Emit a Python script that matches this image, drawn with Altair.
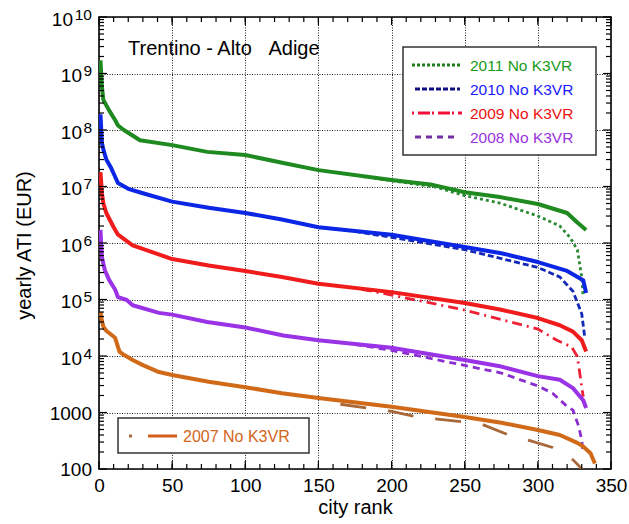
import altair as alt
import pandas as pd

FONT = "Liberation Sans"

# ---------------- data ----------------
series_names = ["2011", "2010", "2009", "2008", "2007"]

# main (dense) curves
rank_2011 = [1, 2, 3, 7, 11, 13, 17, 28, 50, 74, 100, 126, 150, 200, 228, 250, 274, 300, 320, 327, 333]
ati_2011 = [1.7e9, 5.8e8, 3.4e8, 2.2e8, 1.5e8, 1.2e8, 1.0e8, 6.6e7, 5.4e7, 4.1e7, 3.6e7, 2.6e7,
            1.95e7, 1.3e7, 1.07e7, 7.9e6, 6.5e6, 4.9e6, 3.4e6, 2.3e6, 1.7e6]

rank_2010 = [1, 2, 3, 5, 8, 10, 13, 20, 30, 50, 75, 100, 125, 150, 200, 250, 275, 300, 320, 331, 333]
ati_2010 = [1.9e8, 5.9e7, 4.5e7, 3.0e7, 2.2e7, 1.7e7, 1.15e7, 9.1e6, 7.6e6, 5.4e6, 4.2e6, 3.4e6,
            2.6e6, 1.9e6, 1.4e6, 8.5e5, 6.6e5, 4.6e5, 3.2e5, 2.2e5, 1.3e5]

rank_2009 = [1, 2, 3, 5, 10, 13, 23, 50, 75, 100, 125, 150, 200, 250, 275, 300, 315, 324, 330, 333]
ati_2009 = [1.8e7, 7.6e6, 5.0e6, 3.4e6, 1.9e6, 1.4e6, 9.1e5, 5.2e5, 4.0e5, 3.2e5, 2.5e5, 1.9e5,
            1.35e5, 8.7e4, 6.6e4, 4.7e4, 3.5e4, 2.7e4, 1.9e4, 1.2e4]

rank_2008 = [1, 2, 4, 7, 11, 13, 19, 23, 41, 50, 74, 100, 126, 150, 200, 250, 275, 300, 315, 324, 331, 333]
ati_2008 = [1.7e6, 5.6e5, 3.3e5, 2.2e5, 1.5e5, 1.1e5, 9.8e4, 7.9e4, 5.8e4, 5.4e4, 4.0e4, 3.2e4,
            2.3e4, 1.9e4, 1.4e4, 8.5e3, 6.5e3, 4.4e3, 3.8e3, 2.7e3, 1.65e3, 1.2e3]

rank_2007 = [1, 2, 3, 5, 11, 14, 17, 23, 30, 41, 50, 75, 100, 125, 150, 200, 250, 275, 300, 315, 327, 331, 336, 339]
ati_2007 = [6.0e4, 4.2e4, 3.3e4, 2.8e4, 2.1e4, 1.2e4, 1.05e4, 8.5e3, 6.9e3, 5.2e3, 4.6e3, 3.5e3,
            2.8e3, 2.2e3, 1.8e3, 1.26e3, 830, 660, 490, 400, 290, 250, 190, 125]

# secondary (dashed) curves, where they leave the main ones
rank_2011_b = [180, 230, 250, 274, 300, 315, 322, 327, 330, 331]
ati_2011_b = [1.5e7, 9.8e6, 6.9e6, 5.1e6, 3.0e6, 2.0e6, 1.25e6, 7.6e5, 2.5e5, 1.1e5]

rank_2010_b = [175, 200, 250, 300, 315, 324, 330, 332]
ati_2010_b = [1.6e6, 1.26e6, 7.6e5, 3.7e5, 2.5e5, 1.4e5, 5.6e4, 2.2e4]

rank_2009_b = [175, 200, 250, 300, 313, 323, 327, 329, 331]
ati_2009_b = [1.6e5, 1.2e5, 6.5e4, 3.0e4, 1.9e4, 1.45e4, 9.8e3, 4.3e3, 1.9e3]

rank_2008_b = [175, 200, 250, 275, 300, 310, 319, 324, 328, 330, 331]
ati_2008_b = [1.6e4, 1.26e4, 6.8e3, 5.0e3, 2.95e3, 2.2e3, 1.35e3, 1.1e3, 560, 320, 190]

rank_2007_b = [165, 200, 218, 261, 280, 294, 310, 324, 331]
ati_2007_b = [1.4e3, 1.05e3, 830, 630, 400, 320, 240, 145, 95]

legend_top = ["2011 No K3VR", "2010 No K3VR", "2009 No K3VR", "2008 No K3VR"]
legend_bottom = "2007 No K3VR"
title_text = "Trentino - Alto\u00a0\u00a0\u00a0Adige"

x_ticks_major = [0, 50, 100, 150, 200, 250, 300, 350]
y_ticks_major = [1e2, 1e3, 1e4, 1e5, 1e6, 1e7, 1e8, 1e9, 1e10]
y_sup_exps = [4, 5, 6, 7, 8, 9]

# ---------------- styles ----------------
upper_colors = ["#1f8a1f", "#0b26e4", "#f01c1c", "#9a32e6", "#d06a18"]
lower_colors = ["#2a8a36", "#1428b8", "#ee2035", "#8a2ed0", "#a8683a"]
lower_dash = [[3, 3], [6, 3], [2, 5, 10, 5], [7, 5], [26, 22]]
legend_text_colors = ["#1a9a1a", "#1a1aff", "#ee1111", "#9933dd"]
legend_line_colors = ["#1e7f1e", "#101080", "#f0103a", "#7030a0"]
orange_text = "#d2661a"

W, H = 512, 452

# ---------------- tables ----------------
up_sets = [(rank_2011, ati_2011), (rank_2010, ati_2010), (rank_2009, ati_2009),
           (rank_2008, ati_2008), (rank_2007, ati_2007)]
lo_sets = [(rank_2011_b, ati_2011_b), (rank_2010_b, ati_2010_b), (rank_2009_b, ati_2009_b),
           (rank_2008_b, ati_2008_b), (rank_2007_b, ati_2007_b)]

df_up = pd.DataFrame([{"series": s, "rank": r, "ati": a}
                      for s, (rs, As) in zip(series_names, up_sets) for r, a in zip(rs, As)])
df_lo = pd.DataFrame([{"series": s, "rank": r, "ati": a}
                      for s, (rs, As) in zip(series_names, lo_sets) for r, a in zip(rs, As)])

x_minor = [v for v in range(10, 350, 10)]
y_minor = [k * 10 ** e for e in range(2, 10) for k in range(2, 10)]

df_xmaj = pd.DataFrame({"rank": x_ticks_major})
df_xmin = pd.DataFrame({"rank": x_minor})
df_ymaj = pd.DataFrame({"ati": y_ticks_major})
df_ymin = pd.DataFrame({"ati": y_minor})
df_one = pd.DataFrame({"k": [0]})

df_sup = pd.DataFrame({"ati": [10.0 ** e for e in y_sup_exps],
                       "base": ["10"] * len(y_sup_exps),
                       "exp": [str(e) for e in y_sup_exps]})
df_sup10 = pd.DataFrame({"ati": [1e10], "base": ["10"], "exp": ["10"]})
df_plain = pd.DataFrame({"ati": [100, 1000], "lab": ["100", "1000"]})

xs = alt.Scale(domain=[0, 350], nice=False, zero=False)
ys = alt.Scale(type="log", domain=[100, 1e10], nice=False)

grid_kw = dict(grid=True, gridDash=[1, 1.5], gridColor="#222222", gridWidth=1,
               ticks=False, tickSize=0, domain=False)

xaxis = alt.Axis(values=x_ticks_major, format="d", labelFont=FONT, labelFontSize=19,
                 labelColor="black", labelPadding=7, labelFlush=False, labelOverlap=False,
                 title="city rank", titleFont=FONT, titleFontSize=20, titleFontWeight="normal",
                 titleColor="black", titleX=W / 2, titleY=44, titleBaseline="alphabetic",
                 titleAlign="center", **grid_kw)
yaxis = alt.Axis(values=y_ticks_major, labels=False,
                 title="yearly ATI (EUR)", titleFont=FONT, titleFontSize=20,
                 titleFontWeight="normal", titleColor="black", titleX=-69, titleY=H / 2 + 2,
                 titleAngle=270, titleBaseline="alphabetic", titleAlign="center", **grid_kw)


def X():
    return alt.X("rank:Q", scale=xs, axis=xaxis)


def Y():
    return alt.Y("ati:Q", scale=ys, axis=yaxis)


lower = alt.Chart(df_lo).mark_line(strokeWidth=2.8, clip=True).encode(
    x=X(), y=Y(),
    color=alt.Color("series:N", scale=alt.Scale(domain=series_names, range=lower_colors), legend=None),
    strokeDash=alt.StrokeDash("series:N", scale=alt.Scale(domain=series_names, range=lower_dash), legend=None),
)

upper = alt.Chart(df_up).mark_line(strokeWidth=4, clip=True, strokeJoin="round").encode(
    x=X(), y=Y(),
    color=alt.Color("series:N", scale=alt.Scale(domain=series_names, range=upper_colors), legend=None),
)

tick_layers = []
for df_t, ln in [(df_xmaj, 8), (df_xmin, 5)]:
    tick_layers.append(alt.Chart(df_t).mark_rule(color="black", strokeWidth=1.2).encode(
        x=X(), y=alt.value(H), y2=alt.value(H - ln)))
    tick_layers.append(alt.Chart(df_t).mark_rule(color="black", strokeWidth=1.2).encode(
        x=X(), y=alt.value(0), y2=alt.value(ln)))
for df_t, ln in [(df_ymaj, 8), (df_ymin, 5)]:
    tick_layers.append(alt.Chart(df_t).mark_rule(color="black", strokeWidth=1.2).encode(
        y=Y(), x=alt.value(0), x2=alt.value(ln)))
    tick_layers.append(alt.Chart(df_t).mark_rule(color="black", strokeWidth=1.2).encode(
        y=Y(), x=alt.value(W), x2=alt.value(W - ln)))

# y tick labels with superscripts
ylabel_layers = [
    alt.Chart(df_sup).mark_text(align="right", baseline="alphabetic", dy=8.5, font=FONT,
                                fontSize=19, color="black").encode(
        y=Y(), x=alt.value(-17), text="base:N"),
    alt.Chart(df_sup).mark_text(align="right", baseline="alphabetic", dy=2.5, font=FONT,
                                fontSize=15.5, color="black").encode(
        y=Y(), x=alt.value(-7), text="exp:N"),
    alt.Chart(df_sup10).mark_text(align="right", baseline="alphabetic", dy=8.5, font=FONT,
                                  fontSize=19, color="black").encode(
        y=Y(), x=alt.value(-26), text="base:N"),
    alt.Chart(df_sup10).mark_text(align="right", baseline="alphabetic", dy=2.5, font=FONT,
                                  fontSize=15.5, color="black").encode(
        y=Y(), x=alt.value(-7), text="exp:N"),
    alt.Chart(df_plain).mark_text(align="right", baseline="middle", dy=1, font=FONT,
                                  fontSize=19, color="black").encode(
        y=Y(), x=alt.value(-7), text="lab:N"),
]

title = alt.Chart(df_one).mark_text(align="left", baseline="alphabetic", font=FONT,
                                    fontSize=20, color="black").encode(
    x=alt.value(29), y=alt.value(38), text=alt.value(title_text))

# legend 1 (top right)
leg = [alt.Chart(df_one).mark_rect(fill="white", stroke="#333333", strokeWidth=1.5).encode(
    x=alt.value(304), x2=alt.value(497), y=alt.value(30), y2=alt.value(138))]
row_base = [54, 78, 102, 126]
sample_x = [(313, 363), (316, 361), (313, 363), (316, 356)]
legend_dash = [[3, 2], [5, 2], [2, 4, 12, 2], [6, 5]]
for i in range(4):
    leg.append(alt.Chart(df_one).mark_rule(strokeWidth=3, color=legend_line_colors[i],
                                           strokeDash=legend_dash[i]).encode(
        x=alt.value(sample_x[i][0]), x2=alt.value(sample_x[i][1]),
        y=alt.value(row_base[i] - 6)))
    leg.append(alt.Chart(df_one).mark_text(align="left", baseline="alphabetic", font=FONT,
                                           fontSize=15.5, color=legend_text_colors[i]).encode(
        x=alt.value(371), y=alt.value(row_base[i]), text=alt.value(legend_top[i])))

# legend 2 (bottom left)
leg.append(alt.Chart(df_one).mark_rect(fill="white", stroke="#333333", strokeWidth=1.5).encode(
    x=alt.value(19), x2=alt.value(210), y=alt.value(401), y2=alt.value(436)))
leg.append(alt.Chart(df_one).mark_rule(strokeWidth=3, color="#a8683a").encode(
    x=alt.value(30), x2=alt.value(33), y=alt.value(419)))
leg.append(alt.Chart(df_one).mark_rule(strokeWidth=3, color="#d2601a").encode(
    x=alt.value(49), x2=alt.value(78), y=alt.value(419)))
leg.append(alt.Chart(df_one).mark_text(align="left", baseline="alphabetic", font=FONT,
                                       fontSize=16, color=orange_text).encode(
    x=alt.value(84), y=alt.value(425), text=alt.value(legend_bottom)))

chart = alt.layer(lower, upper, *tick_layers, *ylabel_layers, title, *leg).resolve_scale(
    color="independent", strokeDash="independent"
).properties(
    width=W, height=H,
    padding={"left": 99, "top": 17, "right": 18, "bottom": 55},
    autosize=alt.AutoSizeParams(type="none"),
    background="white",
).configure_view(stroke="black", strokeWidth=1.6)

chart.save("out.html", embed_options={"renderer": "svg", "actions": False})
